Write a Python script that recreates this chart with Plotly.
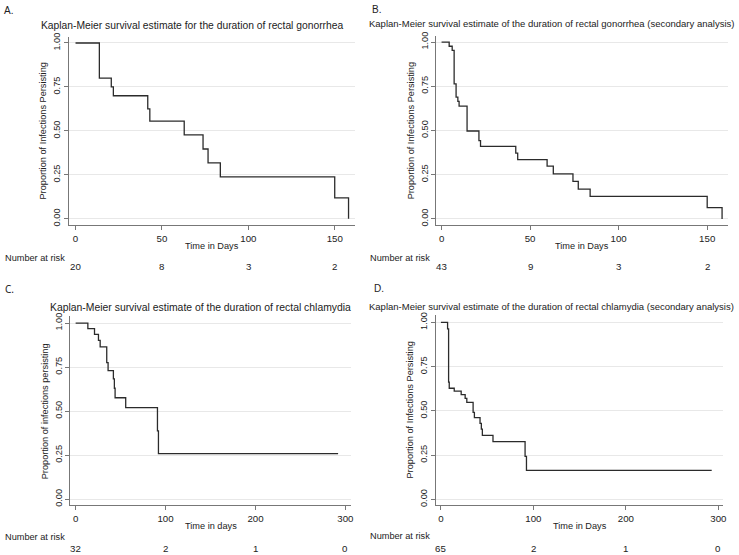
import plotly.graph_objects as go

W, H = 739, 555

# ---------------- data ----------------
a_time = [0, 13.8, 20.7, 21.9, 41.8, 43, 62.9, 73.8, 76.7, 83.8, 150, 158]
a_surv = [1, 0.80, 0.75, 0.70, 0.625, 0.556, 0.477, 0.397, 0.318, 0.238, 0.119, 0]
a_ticks = [0, 50, 100, 150]
a_risk = [20, 8, 3, 2]

b_time = [0, 4.3, 6, 7.1, 8.2, 9.2, 9.9, 14.4, 21.1, 22, 41.9, 43, 59.6, 63.1, 74.2, 77.2, 83.9, 150, 158.4]
b_surv = [1, 0.976, 0.953, 0.763, 0.689, 0.665, 0.638, 0.497, 0.443, 0.41, 0.372, 0.335, 0.298, 0.255, 0.212, 0.169, 0.128, 0.064, 0]
b_ticks = [0, 50, 100, 150]
b_risk = [43, 9, 3, 2]

c_time = [0, 13.6, 21, 25.4, 27.3, 34.6, 36.1, 42, 43.1, 43.9, 55.7, 91, 92.1, 291.9]
c_surv = [1, 0.968, 0.936, 0.902, 0.865, 0.775, 0.73, 0.683, 0.63, 0.576, 0.52, 0.388, 0.259, 0.259]
c_ticks = [0, 100, 200, 300]
c_risk = [32, 2, 1, 0]

d_time = [0, 7.2, 8.3, 9, 14.4, 21.9, 26.2, 28, 34.8, 36.2, 42.3, 43.7, 44.8, 56.3, 91, 92.5, 292.8]
d_surv = [1, 0.963, 0.662, 0.628, 0.612, 0.592, 0.571, 0.548, 0.492, 0.462, 0.43, 0.397, 0.362, 0.326, 0.243, 0.164, 0.164]
d_ticks = [0, 100, 200, 300]
d_risk = [65, 2, 1, 0]

y_ticks = [0, 0.25, 0.5, 0.75, 1.0]
y_ticklabels = ["0.00", "0.25", "0.50", "0.75", "1.00"]

panels = [
    dict(label="A.", title="Kaplan-Meier survival estimate for the duration of rectal gonorrhea",
         xtitle="Time in Days", ytitle="Proportion of Infections Persisting",
         t=a_time, s=a_surv, ticks=a_ticks, risk=a_risk,
         box=(69.5, 356.7, 33.3, 223.5), xr=(-3.7, 161.6), yr=(-0.038, 1.034),
         lab=(2, 7), tit=(193, 22, 10.3), xtY=244, nrY=256, nrX=3, rkY=265, labfont="Liberation Sans"),
    dict(label="B.", title="Kaplan-Meier survival estimate of the duration of rectal gonorrhea (secondary analysis)",
         xtitle="Time in Days", ytitle="Proportion of Infections Persisting",
         t=b_time, s=b_surv, ticks=b_ticks, risk=b_risk,
         box=(438.8, 731.7, 32.3, 223.5), xr=(-2.9, 161.6), yr=(-0.037, 1.034),
         lab=(372, 6), tit=(554, 20, 9.5), xtY=244, nrY=256, nrX=370, rkY=265, labfont="Liberation Sans"),
    dict(label="C.", title="Kaplan-Meier survival estimate of the duration of rectal chlamydia",
         xtitle="Time in days", ytitle="Proportion of infections persisting",
         t=c_time, s=c_surv, ticks=c_ticks, risk=c_risk,
         box=(70.7, 352.7, 315, 506), xr=(-5.9, 306), yr=(-0.035, 1.039),
         lab=(3, 288), tit=(202, 306, 10.4), xtY=527, nrY=538, nrX=3, rkY=549, labfont="Noto Sans"),
    dict(label="D.", title="Kaplan-Meier survival estimate of the duration of rectal chlamydia (secondary analysis)",
         xtitle="Time in Days", ytitle="Proportion of Infections Persisting",
         t=d_time, s=d_surv, ticks=d_ticks, risk=d_risk,
         box=(438.3, 727.3, 314.3, 506), xr=(-5.4, 305.4), yr=(-0.034, 1.039),
         lab=(374, 287), tit=(554, 305, 9.5), xtY=527, nrY=537, nrX=370, rkY=549, labfont="Liberation Sans"),
]

FONT = "Liberation Sans, Arial, sans-serif"
TXT = "#222222"
FS = 9.2

def px(x):
    return x / W

def py(y):
    return 1 - y / H

fig = go.Figure()
annotations = []

for i, p in enumerate(panels, start=1):
    xa = "xaxis" if i == 1 else f"xaxis{i}"
    ya = "yaxis" if i == 1 else f"yaxis{i}"
    xref = "x" if i == 1 else f"x{i}"
    yref = "y" if i == 1 else f"y{i}"
    x0, x1, y0, y1 = p["box"]
    fig.add_trace(go.Scatter(x=p["t"], y=p["s"], mode="lines", line_shape="hv",
                             line=dict(color="#2b2b2b", width=1.3),
                             xaxis=xref, yaxis=yref, showlegend=False, hoverinfo="skip"))
    fig.layout[xa] = dict(domain=[px(x0), px(x1)], anchor=yref, range=list(p["xr"]),
                          tickvals=p["ticks"], ticks="outside", ticklen=4, tickcolor="#777",
                          showline=True, linecolor="#777", linewidth=1, showgrid=False,
                          zeroline=False, tickfont=dict(size=FS + 0.5, color=TXT, family=FONT))
    fig.layout[ya] = dict(domain=[py(y1), py(y0)], anchor=xref, range=list(p["yr"]),
                          tickvals=y_ticks, ticktext=y_ticklabels, tickangle=-90,
                          ticks="outside", ticklen=4, tickcolor="#777",
                          showline=True, linecolor="#777", linewidth=1,
                          showgrid=True, gridcolor="#e8e8e8", gridwidth=1,
                          zeroline=False, tickfont=dict(size=FS, color=TXT, family=FONT))
    annotations.append(dict(text=p["label"], x=px(p["lab"][0]), y=py(p["lab"][1]), xref="paper", yref="paper",
                            xanchor="left", yanchor="middle", showarrow=False,
                            font=dict(size=10, color=TXT, family=p["labfont"])))
    annotations.append(dict(text=p["title"], x=px(p["tit"][0]), y=py(p["tit"][1]), xref="paper", yref="paper",
                            xanchor="center", yanchor="middle", showarrow=False,
                            font=dict(size=p["tit"][2], color=TXT, family=FONT)))
    annotations.append(dict(text=p["xtitle"], x=px((x0 + x1) / 2), y=py(p["xtY"]), xref="paper", yref="paper",
                            xanchor="center", yanchor="middle", showarrow=False,
                            font=dict(size=FS, color=TXT, family=FONT)))
    annotations.append(dict(text=p["ytitle"], x=px(x0 - 26), y=py((y0 + y1) / 2), xref="paper", yref="paper",
                            xanchor="center", yanchor="middle", showarrow=False, textangle=-90,
                            font=dict(size=FS, color=TXT, family=FONT)))
    annotations.append(dict(text="Number at risk", x=px(p["nrX"]), y=py(p["nrY"]), xref="paper", yref="paper",
                            xanchor="left", yanchor="middle", showarrow=False,
                            font=dict(size=FS, color=TXT, family=FONT)))
    for tv, n in zip(p["ticks"], p["risk"]):
        annotations.append(dict(text=str(n), x=tv, y=py(p["rkY"]), xref=xref, yref="paper",
                                xanchor="center", yanchor="middle", showarrow=False,
                                font=dict(size=FS + 0.5, color=TXT, family=FONT)))

fig.update_layout(width=W, height=H, margin=dict(l=0, r=0, t=0, b=0),
                  paper_bgcolor="white", plot_bgcolor="white",
                  annotations=annotations, showlegend=False)

fig.write_html("out.html", include_plotlyjs=True, full_html=True,
               config={"displayModeBar": False},
               post_script="document.body.style.margin='0';document.body.style.overflow='hidden';")
